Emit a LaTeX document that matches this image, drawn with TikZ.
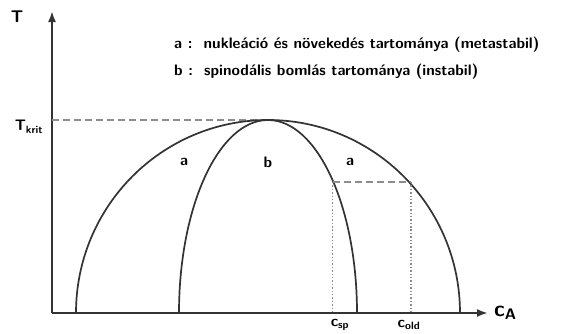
\documentclass[tikz,border=0pt]{standalone}
\usetikzlibrary{arrows.meta, positioning, calc}
\definecolor{axisGray}{HTML}{333333}
\definecolor{guideGray}{HTML}{8C8C8C}

\begin{document}
\begin{tikzpicture}[x=1bp, y=1bp,
  lbl/.style={font=\sffamily\bfseries\fontsize{15.3}{27}\selectfont, inner sep=1pt},
  axis/.style={draw=axisGray, line width=2bp, -{Latex[length=11bp,width=8bp]}},
  curve/.style={draw=axisGray, line width=1.7bp},
  guide/.style={draw=guideGray, line width=1.6bp, dash pattern=on 7bp off 4bp},
  dropline/.style={draw=guideGray, line width=1.4bp, dotted}]
  \useasboundingbox (0,0) rectangle (566,333);

  % axes
  \coordinate (O) at (52,20);
  \coordinate (ytop) at (52,322);
  \coordinate (xend) at (488,20);
  \draw[axis] (O) -- (ytop);
  \draw[axis] (O) -- (xend);
  \node[lbl, font=\sffamily\bfseries\fontsize{17}{20}\selectfont] (T) at (17,316) {T};
  \node[lbl, font=\sffamily\bfseries\fontsize{22}{24}\selectfont, right=5bp of xend] (cA) {c\textsubscript{A}};

  % critical point
  \coordinate (peak) at (268,213);
  \node[lbl] (Tkrit) at (29,206) {T\textsubscript{krit}};
  \draw[guide] (peak -| O) -- (peak);

  % binodal and spinodal
  \draw[curve] (76,20) arc[start angle=180, end angle=0, x radius=192, y radius=193];
  \draw[curve] (179,20) arc[start angle=180, end angle=0, x radius=89, y radius=193];

  % compositions
  \coordinate (spR) at (332.5,151);
  \coordinate (bnR) at (411,151);
  \draw[guide] (spR) -- (bnR);
  \draw[dropline] (spR) -- (spR |- O);
  \draw[dropline] (bnR) -- (bnR |- O);
  \node[lbl] (csp) at (340,8) {c\textsubscript{sp}};
  \node[lbl] (cold) at (409,8) {c\textsubscript{old}};

  % regions
  \node[lbl] (aL) at (184,171) {a};
  \node[lbl] (bM) at (268,171) {b};
  \node[lbl] (aR) at (350,171) {a};
  \node[lbl, anchor=west, align=left] (legend) at (173,274.5)
    {a :\ \ nukleáció és növekedés tartománya (metastabil)\\
     b :\ \ spinodális bomlás tartománya (instabil)};
\end{tikzpicture}
\end{document}
